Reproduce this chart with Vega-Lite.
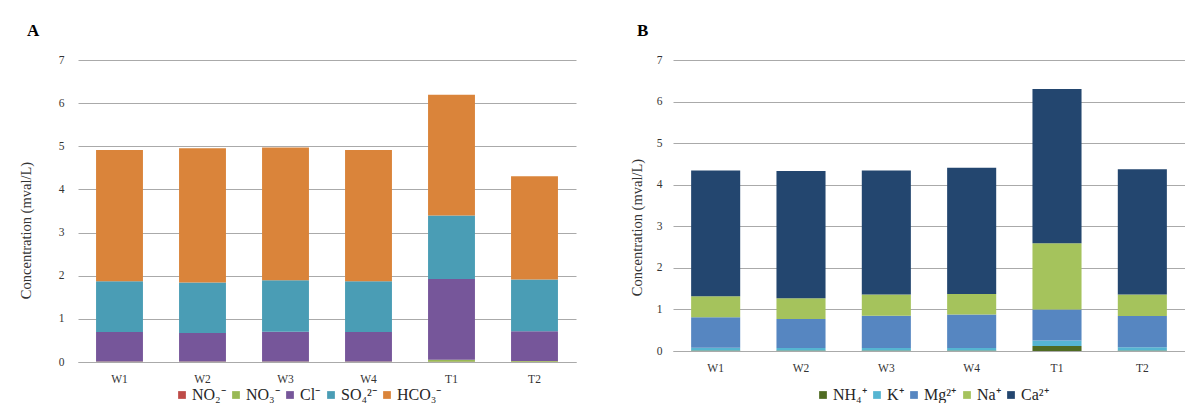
{
  "$schema": "https://vega.github.io/schema/vega-lite/v6.json",
  "background": "white",
  "padding": {"left": 18, "top": 22, "right": 0, "bottom": 0},
  "spacing": 53,
  "config": {
    "font": "Liberation Serif",
    "view": {"stroke": null},
    "axis": {
      "labelFont": "Liberation Serif",
      "titleFont": "Liberation Serif",
      "labelColor": "#333333",
      "titleColor": "#333333",
      "labelFontSize": 11.5,
      "titleFontSize": 14.5,
      "titleFontWeight": "normal",
      "gridColor": "#aaaaaa",
      "domainColor": "#aaaaaa",
      "ticks": false
    },
    "legend": {
      "labelFont": "Liberation Serif",
      "labelColor": "#262626",
      "labelFontSize": 16,
      "symbolType": "square",
      "symbolSize": 60,
      "symbolStrokeWidth": 0,
      "columnPadding": 2,
      "labelOffset": 2
    }
  },
  "resolve": {"scale": {"color": "independent"}, "legend": {"color": "independent"}},
  "datasets": {
    "anions": [
      {"site": "W1", "ion": "NO₂⁻", "v": 0.003},
      {"site": "W1", "ion": "NO₃⁻", "v": 0.01},
      {"site": "W1", "ion": "Cl⁻", "v": 0.68},
      {"site": "W1", "ion": "SO₄²⁻", "v": 1.18},
      {"site": "W1", "ion": "HCO₃⁻", "v": 3.04},
      {"site": "W2", "ion": "NO₂⁻", "v": 0.003},
      {"site": "W2", "ion": "NO₃⁻", "v": 0.01},
      {"site": "W2", "ion": "Cl⁻", "v": 0.66},
      {"site": "W2", "ion": "SO₄²⁻", "v": 1.17},
      {"site": "W2", "ion": "HCO₃⁻", "v": 3.11},
      {"site": "W3", "ion": "NO₂⁻", "v": 0.003},
      {"site": "W3", "ion": "NO₃⁻", "v": 0.01},
      {"site": "W3", "ion": "Cl⁻", "v": 0.69},
      {"site": "W3", "ion": "SO₄²⁻", "v": 1.19},
      {"site": "W3", "ion": "HCO₃⁻", "v": 3.08},
      {"site": "W4", "ion": "NO₂⁻", "v": 0.003},
      {"site": "W4", "ion": "NO₃⁻", "v": 0.01},
      {"site": "W4", "ion": "Cl⁻", "v": 0.68},
      {"site": "W4", "ion": "SO₄²⁻", "v": 1.18},
      {"site": "W4", "ion": "HCO₃⁻", "v": 3.04},
      {"site": "T1", "ion": "NO₂⁻", "v": 0.005},
      {"site": "T1", "ion": "NO₃⁻", "v": 0.05},
      {"site": "T1", "ion": "Cl⁻", "v": 1.87},
      {"site": "T1", "ion": "SO₄²⁻", "v": 1.47},
      {"site": "T1", "ion": "HCO₃⁻", "v": 2.80},
      {"site": "T2", "ion": "NO₂⁻", "v": 0.003},
      {"site": "T2", "ion": "NO₃⁻", "v": 0.02},
      {"site": "T2", "ion": "Cl⁻", "v": 0.69},
      {"site": "T2", "ion": "SO₄²⁻", "v": 1.20},
      {"site": "T2", "ion": "HCO₃⁻", "v": 2.39}
    ],
    "cations": [
      {"site": "W1", "ion": "NH₄⁺", "v": 0.01},
      {"site": "W1", "ion": "K⁺", "v": 0.07},
      {"site": "W1", "ion": "Mg²⁺", "v": 0.73},
      {"site": "W1", "ion": "Na⁺", "v": 0.51},
      {"site": "W1", "ion": "Ca²⁺", "v": 3.02},
      {"site": "W2", "ion": "NH₄⁺", "v": 0.01},
      {"site": "W2", "ion": "K⁺", "v": 0.06},
      {"site": "W2", "ion": "Mg²⁺", "v": 0.70},
      {"site": "W2", "ion": "Na⁺", "v": 0.50},
      {"site": "W2", "ion": "Ca²⁺", "v": 3.06},
      {"site": "W3", "ion": "NH₄⁺", "v": 0.01},
      {"site": "W3", "ion": "K⁺", "v": 0.06},
      {"site": "W3", "ion": "Mg²⁺", "v": 0.78},
      {"site": "W3", "ion": "Na⁺", "v": 0.51},
      {"site": "W3", "ion": "Ca²⁺", "v": 2.98},
      {"site": "W4", "ion": "NH₄⁺", "v": 0.01},
      {"site": "W4", "ion": "K⁺", "v": 0.06},
      {"site": "W4", "ion": "Mg²⁺", "v": 0.81},
      {"site": "W4", "ion": "Na⁺", "v": 0.49},
      {"site": "W4", "ion": "Ca²⁺", "v": 3.04},
      {"site": "T1", "ion": "NH₄⁺", "v": 0.12},
      {"site": "T1", "ion": "K⁺", "v": 0.13},
      {"site": "T1", "ion": "Mg²⁺", "v": 0.75},
      {"site": "T1", "ion": "Na⁺", "v": 1.59},
      {"site": "T1", "ion": "Ca²⁺", "v": 3.71},
      {"site": "T2", "ion": "NH₄⁺", "v": 0.01},
      {"site": "T2", "ion": "K⁺", "v": 0.08},
      {"site": "T2", "ion": "Mg²⁺", "v": 0.75},
      {"site": "T2", "ion": "Na⁺", "v": 0.52},
      {"site": "T2", "ion": "Ca²⁺", "v": 3.01}
    ]
  },
  "hconcat": [
    {
      "width": 498,
      "height": 302,
      "title": {"text": "A", "anchor": "start", "frame": "group", "dx": -51, "offset": 14, "fontSize": 17, "fontWeight": "bold", "color": "black", "font": "Liberation Serif"},
      "data": {"name": "anions"},
      "transform": [
        {"calculate": "indexof(['NO₂⁻', 'NO₃⁻', 'Cl⁻', 'SO₄²⁻', 'HCO₃⁻'], datum.ion)", "as": "stackIndex"}
      ],
      "mark": {"type": "bar"},
      "encoding": {
        "x": {
          "field": "site", "type": "nominal",
          "sort": ["W1", "W2", "W3", "W4", "T1", "T2"],
          "scale": {"paddingInner": 0.435, "paddingOuter": 0.2175},
          "axis": {"title": null, "labelAngle": 0, "labelPadding": 11, "domain": true, "grid": false}
        },
        "y": {
          "field": "v", "type": "quantitative",
          "scale": {"domain": [0, 7]},
          "axis": {"title": "Concentration (mval/L)", "values": [0, 1, 2, 3, 4, 5, 6, 7], "domain": false, "labelPadding": 14, "titlePadding": 25, "titleY": 170, "grid": true}
        },
        "order": {"field": "stackIndex", "type": "quantitative", "sort": "ascending"},
        "color": {
          "field": "ion", "type": "nominal",
          "sort": ["NO₂⁻", "NO₃⁻", "Cl⁻", "SO₄²⁻", "HCO₃⁻"],
          "scale": {"domain": ["NO₂⁻", "NO₃⁻", "Cl⁻", "SO₄²⁻", "HCO₃⁻"], "range": ["#be4b48", "#98b954", "#76569a", "#4a9db5", "#da843a"]},
          "legend": {"title": null, "orient": "none", "direction": "horizontal", "legendX": 96, "legendY": 327}
        }
      }
    },
    {
      "width": 512,
      "height": 291,
      "title": {"text": "B", "anchor": "start", "frame": "group", "dx": -36, "offset": 14, "fontSize": 17, "fontWeight": "bold", "color": "black", "font": "Liberation Serif"},
      "data": {"name": "cations"},
      "transform": [
        {"calculate": "indexof(['NH₄⁺', 'K⁺', 'Mg²⁺', 'Na⁺', 'Ca²⁺'], datum.ion)", "as": "stackIndex"}
      ],
      "mark": {"type": "bar"},
      "encoding": {
        "x": {
          "field": "site", "type": "nominal",
          "sort": ["W1", "W2", "W3", "W4", "T1", "T2"],
          "scale": {"paddingInner": 0.425, "paddingOuter": 0.2125},
          "axis": {"title": null, "labelAngle": 0, "labelPadding": 11, "domain": true, "grid": false}
        },
        "y": {
          "field": "v", "type": "quantitative",
          "scale": {"domain": [0, 7]},
          "axis": {"title": "Concentration (mval/L)", "values": [0, 1, 2, 3, 4, 5, 6, 7], "domain": false, "labelPadding": 11, "titlePadding": 12, "titleY": 167, "grid": true}
        },
        "order": {"field": "stackIndex", "type": "quantitative", "sort": "ascending"},
        "color": {
          "field": "ion", "type": "nominal",
          "sort": ["NH₄⁺", "K⁺", "Mg²⁺", "Na⁺", "Ca²⁺"],
          "scale": {"domain": ["NH₄⁺", "K⁺", "Mg²⁺", "Na⁺", "Ca²⁺"], "range": ["#4f6b22", "#55b5d2", "#5686c1", "#a5c35c", "#23466f"]},
          "legend": {"title": null, "orient": "none", "direction": "horizontal", "legendX": 142, "legendY": 327}
        }
      }
    }
  ]
}
